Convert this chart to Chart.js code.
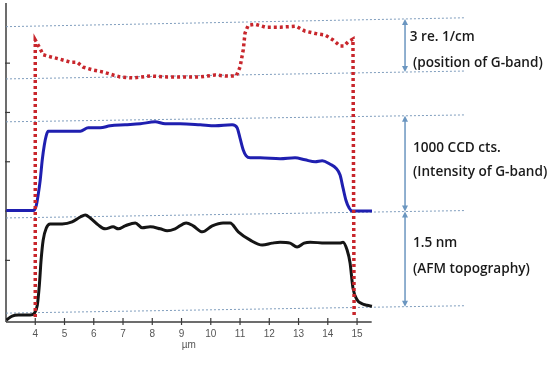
<!DOCTYPE html>
<html><head><meta charset="utf-8">
<script src="https://cdn.jsdelivr.net/npm/chart.js@4/dist/chart.umd.min.js"></script>
<style>html,body{margin:0;padding:0;background:#fff}canvas{display:block}</style>
</head><body><canvas id="c" width="550" height="369"></canvas>
<script>
// x axis (µm)
const xTicks = [4,5,6,7,8,9,10,11,12,13,14,15];
const xAxisRange = [3, 15.5];
const xFull = [3, 18.69];
const yTicks = [1.25,2.25,3.25,4.25,5.25];
const yRange = [0, 6.47];

// G-band position (red dotted)
const posX = [4.0,4.0,4.17,4.27,4.51,4.85,5.20,5.43,5.64,5.98,6.32,6.66,6.90,7.35,7.93,8.51,9.19,9.64,10.15,10.49,10.87,11.00,11.11,11.17,11.28,11.52,11.86,12.37,12.92,13.22,13.67,13.91,14.18,14.42,14.56,14.69,14.86,14.90];
const posY = [0.10,5.72,5.54,5.42,5.38,5.33,5.27,5.27,5.17,5.11,5.07,5.01,4.97,4.95,4.99,4.97,4.97,4.97,5.01,4.99,4.99,5.17,5.52,5.86,6.02,6.04,5.98,5.98,6.00,5.90,5.84,5.82,5.72,5.60,5.60,5.68,5.74,0.10];

// G-band intensity (blue)
const intX = [3.01,3.93,4.03,4.10,4.17,4.24,4.31,4.38,4.44,4.85,5.54,5.81,6.22,6.56,7.07,7.59,8.10,8.44,8.95,9.64,10.15,10.73,10.90,11.00,11.11,11.21,11.35,11.69,12.37,12.88,13.22,13.57,13.81,14.08,14.28,14.42,14.52,14.62,14.73,14.83,15.51];
const intY = [2.26,2.26,2.35,2.58,2.88,3.29,3.59,3.79,3.87,3.87,3.87,3.94,3.94,3.98,4.00,4.02,4.06,4.02,4.02,4.00,3.98,4.00,3.94,3.73,3.49,3.37,3.33,3.33,3.31,3.33,3.29,3.25,3.27,3.20,3.12,2.98,2.72,2.47,2.31,2.25,2.25];

// AFM topography (black)
const afmX = [3.01,3.21,3.42,3.83,3.97,4.07,4.14,4.20,4.27,4.38,4.51,4.92,5.26,5.54,5.71,5.88,6.15,6.39,6.66,6.84,7.07,7.42,7.66,7.93,8.27,8.51,8.78,9.16,9.40,9.71,10.05,10.42,10.66,10.94,11.35,11.76,12.10,12.37,12.71,12.95,13.19,13.40,13.91,14.42,14.52,14.66,14.76,14.86,15.00,15.17,15.34,15.51];
const afmY = [0.04,0.12,0.14,0.14,0.18,0.34,0.75,1.26,1.66,1.91,1.99,1.99,2.03,2.13,2.17,2.11,1.97,1.89,1.93,1.89,1.95,2.01,1.91,1.93,1.89,1.85,1.89,2.01,1.95,1.83,1.95,2.01,2.01,1.83,1.66,1.56,1.60,1.62,1.60,1.52,1.60,1.62,1.60,1.60,1.62,1.46,1.20,0.69,0.45,0.37,0.34,0.32];

// dashed guide lines (value at left end, value at right end)
const guideLeft  = [5.99, 4.93, 4.06, 2.11, 0.18];
const guideRight = [6.17, 5.09, 4.20, 2.26, 0.33];

// scale bars (pairs of guide indices) and annotation texts
const arrowX = 16.64;
const arrowPairs = [[0,1],[2,3],[3,4]];
const labels = ['3 re. 1/cm','(position of G-band)','1000 CCD cts.','(Intensity of G-band)','1.5 nm','(AFM topography)'];
const labelX = [16.80,16.91,16.91,16.91,16.91,16.91];
const labelY = [5.78,5.25,3.53,3.04,1.60,1.08];
const axisTitle = 'µm';
const axisTitleX = 9.25;

const pts = (xs, ys) => xs.map((v,i)=>({x:v, y:ys[i]}));
const guideAt = (i, xv) => guideLeft[i] + (guideRight[i]-guideLeft[i])*(xv-xFull[0])/(xFull[1]-xFull[0]);

const datasets = [
  {data: pts(posX,posY), borderColor:'#c8262c', borderWidth:3.5, borderDash:[3,3], tension:0, pointRadius:0, order:1},
  {data: pts(afmX,afmY), borderColor:'#151515', borderWidth:3, cubicInterpolationMode:'monotone', pointRadius:0, order:2},
  {data: pts(intX,intY), borderColor:'#1f1fb0', borderWidth:3, cubicInterpolationMode:'monotone', pointRadius:0, order:3},
];
guideLeft.forEach((g,i)=>{
  datasets.push({data:[{x:xFull[0],y:guideLeft[i]},{x:xFull[1],y:guideRight[i]}], borderColor:'#7f9dbd', borderWidth:1, borderDash:[2,2], pointRadius:0, order:10});
});

const overlay = {
  id:'overlay',
  beforeDatasetsDraw(chart){
    const {ctx, scales:{x,y}} = chart;
    ctx.save();
    ctx.strokeStyle='#3c3c3c'; ctx.lineWidth=1.5;
    const x0=x.getPixelForValue(xAxisRange[0]), x1=x.getPixelForValue(xAxisRange[1]);
    const yb=y.getPixelForValue(yRange[0]), yt=y.getPixelForValue(yRange[1]);
    ctx.beginPath(); ctx.moveTo(x0,yb); ctx.lineTo(x1,yb); ctx.stroke();
    ctx.beginPath(); ctx.moveTo(x0,yb); ctx.lineTo(x0,yt); ctx.stroke();
    ctx.lineWidth=1.2;
    xTicks.forEach(v=>{const px=x.getPixelForValue(v); ctx.beginPath(); ctx.moveTo(px,yb-4); ctx.lineTo(px,yb+3); ctx.stroke();});
    yTicks.forEach(v=>{const py=y.getPixelForValue(v); ctx.beginPath(); ctx.moveTo(x0-1,py); ctx.lineTo(x0+4,py); ctx.stroke();});
    ctx.restore();
  },
  afterDatasetsDraw(chart){
    const {ctx, scales:{x,y}} = chart;
    ctx.save();
    const ax = x.getPixelForValue(arrowX);
    ctx.strokeStyle='#6b96c0'; ctx.fillStyle='#6b96c0'; ctx.lineWidth=1.5;
    arrowPairs.forEach(([a,b])=>{
      const ya=y.getPixelForValue(guideAt(a,arrowX)), yb=y.getPixelForValue(guideAt(b,arrowX));
      ctx.beginPath(); ctx.moveTo(ax,ya+4); ctx.lineTo(ax,yb-4); ctx.stroke();
      ctx.beginPath(); ctx.moveTo(ax,ya); ctx.lineTo(ax-3,ya+6); ctx.lineTo(ax+3,ya+6); ctx.closePath(); ctx.fill();
      ctx.beginPath(); ctx.moveTo(ax,yb); ctx.lineTo(ax-3,yb-6); ctx.lineTo(ax+3,yb-6); ctx.closePath(); ctx.fill();
    });
    ctx.fillStyle='#1a1a1a'; ctx.font='600 13.6px "Open Sans"'; ctx.textBaseline='middle'; ctx.textAlign='left';
    labels.forEach((t,i)=>ctx.fillText(t, x.getPixelForValue(labelX[i]), y.getPixelForValue(labelY[i])));
    ctx.fillStyle='#555'; ctx.font='10px "Liberation Sans"'; ctx.textAlign='center';
    ctx.fillText(axisTitle, x.getPixelForValue(axisTitleX), y.getPixelForValue(yRange[0])+23);
    ctx.restore();
  }
};

new Chart(document.getElementById('c'), {
  type:'line',
  data:{datasets},
  options:{
    responsive:false, animation:false, events:[],
    layout:{padding:{left:6,right:85,top:3,bottom:0}},
    plugins:{legend:{display:false}, tooltip:{enabled:false}},
    scales:{
      x:{type:'linear', min:xFull[0], max:xFull[1],
        afterBuildTicks:s=>{s.ticks=xTicks.map(v=>({value:v}));},
        afterFit:s=>{s.height=47;},
        grid:{display:false, drawTicks:false}, border:{display:false},
        ticks:{padding:6, color:'#555', font:{family:'Liberation Sans', size:10}, maxRotation:0, autoSkip:false}},
      y:{type:'linear', min:yRange[0], max:yRange[1], display:false}
    }
  },
  plugins:[overlay]
});
</script></body></html>
